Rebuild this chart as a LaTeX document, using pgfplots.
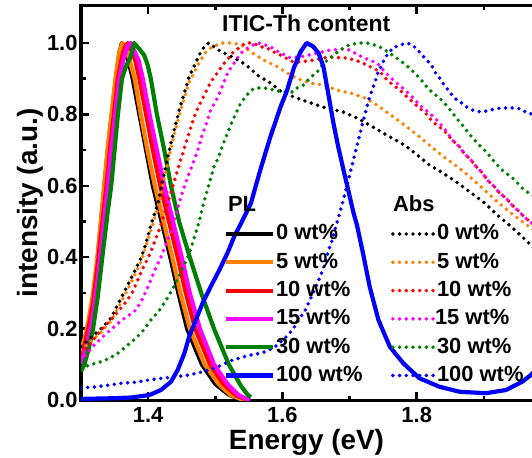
\documentclass[border=0pt]{standalone}
\usepackage{pgfplots}
\pgfplotsset{compat=1.18}
\usepackage{fontspec}
\setmainfont{Liberation Sans}

\definecolor{cOrange}{RGB}{255,128,0}
\definecolor{cGreen}{RGB}{0,128,0}
\definecolor{cRed}{RGB}{255,0,0}
\definecolor{cMag}{RGB}{255,0,255}
\definecolor{cBlue}{RGB}{0,0,255}

\pgfplotsset{
  plline/.style={line width=4.2bp, line join=round},
  absline/.style={line width=3.9bp, line cap=round, dash pattern=on 0bp off 6.7bp},
}
\tikzset{keytext/.style={anchor=base west, inner sep=0pt, font=\bfseries\fontsize{22}{24}\selectfont}}

\begin{document}
\begin{tikzpicture}
\begin{axis}[
  scale only axis, width=451bp, height=394bp,
  xmin=1.30, xmax=1.9717, ymin=0, ymax=1.1036,
  axis x line=box, axis y line=left,
  axis line style={-, line width=3bp, line cap=rect},
  tick align=inside,
  xtick={1.4,1.6,1.8}, minor xtick={1.5,1.7,1.9},
  ytick={0,0.2,0.4,0.6,0.8,1.0}, minor ytick={0.1,0.3,0.5,0.7,0.9},
  major tick length=8bp, minor tick length=4.5bp,
  tick style={black, line width=2.5bp},
  /pgf/number format/fixed, /pgf/number format/fixed zerofill,
  /pgf/number format/precision=1, /pgf/number format/assume math mode=true,
  tick label style={font=\bfseries\fontsize{22}{24}\selectfont},
  xticklabel style={yshift=-4bp},
  xlabel={Energy (eV)}, ylabel={intensity (a.u.)},
  every axis x label/.style={at={(axis description cs:0.5,-0.1244)}, anchor=base, font=\bfseries\fontsize{28}{30}\selectfont},
  every axis y label/.style={at={(axis description cs:-0.0973,0.5)}, rotate=90, anchor=base, font=\bfseries\fontsize{28}{30}\selectfont},
]

% ---- PL spectra ----
\addplot[plline, black] coordinates {
(1.300,0.12)(1.305,0.15)(1.311,0.20)(1.318,0.28)(1.325,0.40)(1.330,0.50)(1.335,0.60)
(1.340,0.70)(1.346,0.80)(1.352,0.90)(1.357,0.97)(1.361,1.00)(1.366,0.98)(1.372,0.94)
(1.377,0.90)(1.387,0.80)(1.397,0.70)(1.407,0.60)(1.420,0.50)(1.433,0.40)(1.445,0.30)
(1.458,0.20)(1.480,0.10)(1.500,0.045)(1.520,0.015)(1.535,0.004)(1.545,0.0)};
\addplot[plline, cOrange] coordinates {
(1.300,0.14)(1.305,0.17)(1.311,0.22)(1.318,0.30)(1.325,0.41)(1.330,0.51)(1.335,0.61)
(1.340,0.71)(1.346,0.81)(1.352,0.91)(1.357,0.975)(1.362,1.00)(1.368,0.98)(1.374,0.94)
(1.380,0.90)(1.389,0.80)(1.399,0.70)(1.410,0.60)(1.423,0.50)(1.436,0.40)(1.448,0.30)
(1.462,0.20)(1.484,0.10)(1.505,0.045)(1.522,0.015)(1.536,0.004)(1.547,0.0)};
\addplot[plline, cRed] coordinates {
(1.300,0.12)(1.305,0.15)(1.311,0.20)(1.318,0.27)(1.325,0.38)(1.332,0.50)(1.338,0.60)
(1.343,0.70)(1.349,0.80)(1.355,0.90)(1.361,0.96)(1.366,0.99)(1.370,1.00)(1.375,0.98)
(1.381,0.95)(1.387,0.90)(1.397,0.80)(1.407,0.70)(1.418,0.60)(1.431,0.50)(1.444,0.40)
(1.456,0.30)(1.470,0.20)(1.492,0.10)(1.512,0.045)(1.530,0.015)(1.542,0.004)(1.550,0.0)};
\addplot[plline, cMag] coordinates {
(1.300,0.10)(1.305,0.13)(1.311,0.17)(1.318,0.24)(1.325,0.34)(1.334,0.50)(1.340,0.60)
(1.345,0.70)(1.351,0.80)(1.357,0.90)(1.364,0.96)(1.369,0.99)(1.374,1.00)(1.379,0.98)
(1.386,0.95)(1.392,0.90)(1.402,0.80)(1.413,0.70)(1.424,0.60)(1.437,0.50)(1.450,0.40)
(1.462,0.30)(1.477,0.20)(1.498,0.10)(1.518,0.045)(1.534,0.015)(1.545,0.004)(1.552,0.0)};
\addplot[plline, cGreen] coordinates {
(1.300,0.08)(1.305,0.10)(1.311,0.14)(1.318,0.20)(1.325,0.29)(1.333,0.42)(1.340,0.53)
(1.345,0.60)(1.350,0.70)(1.355,0.80)(1.361,0.90)(1.367,0.934)(1.374,0.962)(1.379,1.00)
(1.386,0.985)(1.394,0.966)(1.399,0.94)(1.404,0.90)(1.413,0.80)(1.424,0.70)(1.434,0.60)
(1.446,0.50)(1.462,0.40)(1.479,0.30)(1.498,0.20)(1.520,0.10)(1.538,0.04)(1.548,0.015)(1.553,0.008)};

% ---- absorption spectra ----
\addplot[absline, black] coordinates {
(1.300,0.150)(1.315,0.175)(1.330,0.200)(1.345,0.230)(1.360,0.286)(1.375,0.342)(1.390,0.400)
(1.397,0.440)(1.404,0.490)(1.415,0.552)(1.424,0.636)(1.434,0.720)(1.446,0.810)(1.461,0.905)
(1.476,0.966)(1.482,0.985)(1.490,1.000)(1.505,0.980)(1.526,0.960)(1.545,0.940)(1.563,0.910)
(1.582,0.888)(1.601,0.860)(1.630,0.840)(1.661,0.820)(1.690,0.807)(1.711,0.790)(1.730,0.770)
(1.760,0.737)(1.782,0.714)(1.801,0.686)(1.819,0.658)(1.839,0.636)(1.861,0.608)(1.881,0.580)
(1.901,0.552)(1.920,0.518)(1.941,0.485)(1.960,0.452)(1.975,0.425)};
\addplot[absline, cOrange] coordinates {
(1.300,0.140)(1.330,0.190)(1.345,0.222)(1.360,0.275)(1.375,0.330)(1.390,0.390)(1.404,0.475)
(1.415,0.540)(1.424,0.620)(1.434,0.705)(1.446,0.795)(1.461,0.890)(1.476,0.945)(1.486,0.975)
(1.496,0.990)(1.510,1.000)(1.525,1.000)(1.538,0.995)(1.553,0.975)(1.572,0.952)(1.593,0.933)
(1.607,0.916)(1.622,0.900)(1.641,0.888)(1.661,0.882)(1.681,0.868)(1.701,0.860)(1.723,0.846)
(1.741,0.826)(1.760,0.800)(1.782,0.770)(1.801,0.742)(1.822,0.709)(1.841,0.680)(1.861,0.653)
(1.881,0.622)(1.901,0.588)(1.920,0.555)(1.941,0.523)(1.960,0.496)(1.975,0.475)};
\addplot[absline, cRed] coordinates {
(1.300,0.130)(1.315,0.160)(1.330,0.196)(1.345,0.225)(1.357,0.252)(1.368,0.277)(1.377,0.303)
(1.390,0.360)(1.404,0.415)(1.419,0.490)(1.432,0.570)(1.446,0.658)(1.453,0.700)(1.461,0.748)
(1.468,0.790)(1.476,0.826)(1.486,0.863)(1.493,0.890)(1.504,0.919)(1.513,0.943)(1.520,0.958)
(1.527,0.975)(1.535,0.986)(1.545,1.000)(1.556,1.000)(1.567,0.990)(1.578,0.985)(1.587,0.975)
(1.597,0.966)(1.616,0.947)(1.627,0.947)(1.646,0.952)(1.667,0.960)(1.697,0.958)(1.716,0.947)
(1.726,0.938)(1.745,0.920)(1.756,0.896)(1.765,0.882)(1.775,0.868)(1.785,0.850)(1.794,0.835)
(1.804,0.818)(1.815,0.800)(1.824,0.778)(1.834,0.765)(1.844,0.748)(1.853,0.728)(1.864,0.709)
(1.871,0.690)(1.881,0.672)(1.889,0.653)(1.898,0.636)(1.905,0.616)(1.916,0.597)(1.923,0.580)
(1.933,0.566)(1.942,0.546)(1.953,0.527)(1.960,0.513)(1.975,0.490)};
\addplot[absline, cMag] coordinates {
(1.300,0.110)(1.320,0.155)(1.340,0.190)(1.360,0.222)(1.382,0.252)(1.392,0.285)(1.402,0.327)
(1.409,0.360)(1.419,0.400)(1.429,0.448)(1.437,0.490)(1.446,0.551)(1.452,0.588)(1.459,0.625)
(1.467,0.664)(1.474,0.700)(1.479,0.734)(1.486,0.770)(1.493,0.812)(1.504,0.849)(1.511,0.882)
(1.519,0.919)(1.526,0.938)(1.533,0.958)(1.540,0.975)(1.548,0.986)(1.556,0.994)(1.564,1.000)
(1.575,0.994)(1.585,0.986)(1.594,0.975)(1.604,0.966)(1.612,0.958)(1.630,0.962)(1.652,0.972)
(1.671,0.980)(1.690,0.983)(1.701,0.980)(1.711,0.968)(1.720,0.960)(1.730,0.952)(1.741,0.944)
(1.750,0.924)(1.760,0.905)(1.770,0.888)(1.779,0.874)(1.790,0.855)(1.800,0.835)(1.809,0.818)
(1.819,0.804)(1.830,0.784)(1.839,0.765)(1.846,0.748)(1.853,0.728)(1.864,0.709)(1.871,0.690)
(1.881,0.672)(1.889,0.653)(1.898,0.636)(1.905,0.616)(1.916,0.597)(1.923,0.580)(1.933,0.566)
(1.942,0.546)(1.953,0.527)(1.960,0.513)(1.975,0.490)};
\addplot[absline, cGreen] coordinates {
(1.300,0.090)(1.313,0.098)(1.323,0.104)(1.332,0.108)(1.342,0.117)(1.353,0.128)(1.361,0.140)
(1.372,0.158)(1.380,0.170)(1.392,0.193)(1.404,0.224)(1.417,0.252)(1.427,0.280)(1.437,0.313)
(1.448,0.355)(1.459,0.400)(1.468,0.450)(1.476,0.500)(1.483,0.555)(1.490,0.600)(1.498,0.653)
(1.505,0.681)(1.511,0.714)(1.520,0.756)(1.526,0.784)(1.533,0.812)(1.538,0.832)(1.545,0.849)
(1.553,0.868)(1.563,0.874)(1.572,0.874)(1.582,0.871)(1.593,0.865)(1.601,0.863)(1.615,0.863)
(1.622,0.874)(1.631,0.882)(1.641,0.902)(1.652,0.919)(1.659,0.938)(1.667,0.952)(1.676,0.966)
(1.686,0.980)(1.696,0.992)(1.705,0.997)(1.716,1.000)(1.726,1.000)(1.738,0.994)(1.748,0.986)
(1.757,0.975)(1.767,0.962)(1.778,0.947)(1.787,0.933)(1.797,0.916)(1.807,0.896)(1.815,0.877)
(1.824,0.860)(1.834,0.846)(1.844,0.826)(1.852,0.807)(1.859,0.790)(1.868,0.770)(1.876,0.751)
(1.883,0.734)(1.893,0.714)(1.904,0.695)(1.911,0.678)(1.920,0.658)(1.930,0.639)(1.941,0.625)
(1.950,0.608)(1.960,0.588)(1.975,0.570)};
\addplot[absline, cBlue] coordinates {
(1.300,0.034)(1.323,0.037)(1.342,0.042)(1.361,0.047)(1.382,0.050)(1.401,0.056)(1.421,0.061)
(1.442,0.065)(1.461,0.070)(1.481,0.079)(1.500,0.090)(1.526,0.112)(1.550,0.125)(1.570,0.132)
(1.587,0.146)(1.601,0.168)(1.615,0.196)(1.624,0.224)(1.634,0.252)(1.641,0.280)(1.649,0.314)
(1.656,0.345)(1.664,0.384)(1.668,0.415)(1.674,0.448)(1.679,0.482)(1.690,0.555)(1.700,0.630)
(1.710,0.705)(1.720,0.780)(1.730,0.850)(1.738,0.891)(1.742,0.916)(1.748,0.938)(1.753,0.960)
(1.760,0.975)(1.764,0.986)(1.775,0.994)(1.785,1.000)(1.794,0.994)(1.804,0.975)(1.812,0.958)
(1.822,0.938)(1.827,0.919)(1.834,0.902)(1.841,0.882)(1.849,0.863)(1.856,0.846)(1.867,0.832)
(1.876,0.818)(1.886,0.810)(1.896,0.807)(1.905,0.810)(1.916,0.815)(1.926,0.818)(1.935,0.818)
(1.945,0.818)(1.956,0.815)(1.964,0.804)(1.975,0.800)};

% ---- PL of neat ITIC-Th ----
\addplot[plline, cBlue] coordinates {
(1.300,0.003)(1.350,0.005)(1.375,0.007)(1.402,0.014)(1.419,0.028)(1.434,0.051)(1.444,0.084)
(1.454,0.131)(1.461,0.177)(1.471,0.224)(1.481,0.271)(1.493,0.317)(1.506,0.364)(1.518,0.411)
(1.528,0.457)(1.537,0.490)(1.545,0.520)(1.553,0.551)(1.567,0.644)(1.582,0.737)(1.597,0.820)
(1.607,0.868)(1.617,0.930)(1.627,0.975)(1.636,1.000)(1.646,0.990)(1.654,0.971)(1.661,0.934)
(1.669,0.850)(1.676,0.775)(1.683,0.710)(1.691,0.644)(1.698,0.588)(1.706,0.523)(1.711,0.490)
(1.720,0.411)(1.730,0.317)(1.743,0.224)(1.760,0.149)(1.780,0.103)(1.804,0.061)(1.834,0.037)
(1.864,0.023)(1.903,0.019)(1.933,0.028)(1.957,0.051)(1.970,0.070)(1.975,0.080)};

% ---- key: PL (solid) and Abs (dotted) samples in two columns ----
\addplot[plline, black]   coordinates {(1.5157,0.4650)(1.5857,0.4650)};
\addplot[plline, cOrange] coordinates {(1.5157,0.3857)(1.5857,0.3857)};
\addplot[plline, cRed]    coordinates {(1.5157,0.3064)(1.5857,0.3064)};
\addplot[plline, cMag]    coordinates {(1.5157,0.2272)(1.5857,0.2272)};
\addplot[plline, cGreen]  coordinates {(1.5157,0.1479)(1.5857,0.1479)};
\addplot[plline, cBlue]   coordinates {(1.5157,0.0686)(1.5857,0.0686)};
\addplot[absline, black]   coordinates {(1.7645,0.4650)(1.8245,0.4650)};
\addplot[absline, cOrange] coordinates {(1.7645,0.3857)(1.8245,0.3857)};
\addplot[absline, cRed]    coordinates {(1.7645,0.3064)(1.8245,0.3064)};
\addplot[absline, cMag]    coordinates {(1.7645,0.2272)(1.8245,0.2272)};
\addplot[absline, cGreen]  coordinates {(1.7645,0.1479)(1.8245,0.1479)};
\addplot[absline, cBlue]   coordinates {(1.7645,0.0686)(1.8245,0.0686)};

\node[keytext] at (axis cs:1.5902,0.4482) {0 wt\%};
\node[keytext] at (axis cs:1.5902,0.3689) {5 wt\%};
\node[keytext] at (axis cs:1.5902,0.2896) {10 wt\%};
\node[keytext] at (axis cs:1.5902,0.2104) {15 wt\%};
\node[keytext] at (axis cs:1.5902,0.1311) {30 wt\%};
\node[keytext] at (axis cs:1.5902,0.0518) {100 wt\%};
\node[keytext] at (axis cs:1.8300,0.4482) {0 wt\%};
\node[keytext] at (axis cs:1.8300,0.3689) {5 wt\%};
\node[keytext] at (axis cs:1.8300,0.2896) {10 wt\%};
\node[keytext] at (axis cs:1.8270,0.2104) {15 wt\%};
\node[keytext] at (axis cs:1.8300,0.1311) {30 wt\%};
\node[keytext] at (axis cs:1.8300,0.0518) {100 wt\%};

% ---- annotations ----
\node[anchor=base west, font=\bfseries\fontsize{23}{25}\selectfont, inner sep=0pt] at (axis cs:1.5100,1.0308) {ITIC-Th content};
\node[keytext] at (axis cs:1.5187,0.5266) {PL};
\node[keytext] at (axis cs:1.7645,0.5275) {Abs};
\end{axis}
\pgfresetboundingbox
\useasboundingbox (current axis.south west) ++(-81bp,-58bp) rectangle ++(532bp,458bp);
\end{tikzpicture}
\end{document}
